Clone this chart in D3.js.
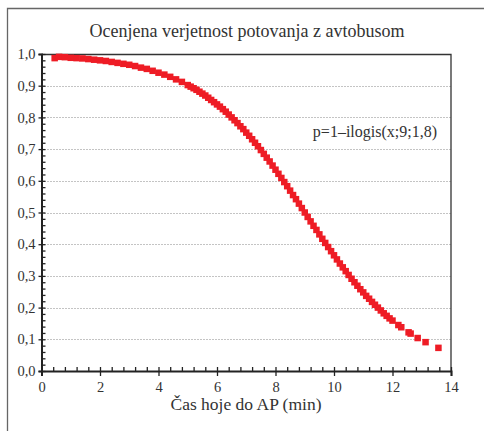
<!DOCTYPE html>
<html>
<head>
<meta charset="utf-8">
<script src="https://cdn.jsdelivr.net/npm/d3@7"></script>
<style>
  html, body { margin: 0; padding: 0; background: #fff; }
  svg { display: block; }
  text { font-family: "Liberation Serif", "DejaVu Serif", serif; fill: #333; }
</style>
</head>
<body>
<svg id="chart" width="486" height="431"></svg>
<script>
// ---- data ----
const title = "Ocenjena verjetnost potovanja z avtobusom";
const xAxisTitle = "Čas hoje do AP (min)";
const annotation = "p=1–ilogis(x;9;1,8)";

const xTicks = [0, 2, 4, 6, 8, 10, 12, 14];
const yTicks = [0, 0.1, 0.2, 0.3, 0.4, 0.5, 0.6, 0.7, 0.8, 0.9, 1.0];

const xValues = [
  0.45, 0.6, 0.8, 1.0, 1.2, 1.4, 1.6, 1.8, 2.0, 2.2, 2.4, 2.6, 2.8, 3.0, 3.2, 3.4, 3.6, 3.8,
  4.0, 4.2, 4.4, 4.6, 4.8, 5.0,
  5.1, 5.2, 5.3, 5.4, 5.5, 5.6, 5.7, 5.8, 5.9, 6.0,
  6.1, 6.2, 6.3, 6.4, 6.5, 6.6, 6.7, 6.8, 6.9, 7.0,
  7.1, 7.2, 7.3, 7.4, 7.5, 7.6, 7.7, 7.8, 7.9, 8.0,
  8.1, 8.2, 8.3, 8.4, 8.5, 8.6, 8.7, 8.8, 8.9, 9.0,
  9.1, 9.2, 9.3, 9.4, 9.5, 9.6, 9.7, 9.8, 9.9, 10.0,
  10.1, 10.2, 10.3, 10.4, 10.5, 10.6, 10.7, 10.8, 10.9, 11.0,
  11.1, 11.2, 11.3, 11.4, 11.5, 11.6, 11.7, 11.8, 11.9, 12.0,
  12.2, 12.3, 12.55, 12.62, 12.86, 13.13, 13.57
];
const pValues = [
  0.987, 0.991, 0.990, 0.988, 0.987, 0.986, 0.984, 0.982, 0.980, 0.978, 0.975, 0.972, 0.969, 0.966, 0.962, 0.957, 0.953, 0.947,
  0.941, 0.935, 0.928, 0.920, 0.912, 0.902,
  0.897, 0.892, 0.887, 0.881, 0.875, 0.869, 0.862, 0.855, 0.848, 0.841,
  0.834, 0.826, 0.818, 0.809, 0.800, 0.791, 0.782, 0.772, 0.763, 0.752,
  0.742, 0.731, 0.720, 0.709, 0.697, 0.685, 0.673, 0.661, 0.648, 0.635,
  0.622, 0.609, 0.596, 0.583, 0.569, 0.555, 0.542, 0.528, 0.514, 0.500,
  0.486, 0.472, 0.458, 0.445, 0.431, 0.417, 0.404, 0.391, 0.378, 0.365,
  0.352, 0.339, 0.327, 0.315, 0.303, 0.291, 0.280, 0.269, 0.258, 0.248,
  0.237, 0.228, 0.218, 0.209, 0.200, 0.191, 0.182, 0.174, 0.166, 0.159,
  0.145, 0.138, 0.122, 0.118, 0.104, 0.091, 0.073
];

// ---- layout ----
const svg = d3.select("#chart");
const plot = { left: 41.5, right: 451, top: 54, bottom: 371 };

const x = d3.scaleLinear().domain([0, 14]).range([plot.left, plot.right]);
const y = d3.scaleLinear().domain([0, 1]).range([plot.bottom, plot.top]);

// outer frame (top and left)
svg.append("path")
  .attr("d", "M7.5,431 L7.5,8.5 L484,8.5")
  .attr("fill", "none").attr("stroke", "#666").attr("stroke-width", 1.3);

// title
svg.append("text")
  .attr("x", 247).attr("y", 37)
  .attr("text-anchor", "middle")
  .attr("font-size", 18)
  .text(title);

// dotted gridlines
svg.append("g").selectAll("line")
  .data(yTicks.filter(d => d > 0 && d < 1))
  .join("line")
  .attr("x1", plot.left).attr("x2", plot.right)
  .attr("y1", d => Math.round(y(d)) + 0.5).attr("y2", d => Math.round(y(d)) + 0.5)
  .attr("stroke", "#888").attr("stroke-width", 1)
  .attr("stroke-dasharray", "1,2");

// plot frame top and right
svg.append("path")
  .attr("d", `M${plot.left},${plot.top + 0.5} L${plot.right},${plot.top + 0.5} L${plot.right},${plot.bottom}`)
  .attr("fill", "none").attr("stroke", "#333").attr("stroke-width", 1.3);

// minor ticks
const xMinor = d3.range(0, 14.0001, 0.4).filter(v => Math.abs(v / 2 - Math.round(v / 2)) > 1e-6);
const yMinor = d3.range(0, 1.0001, 0.02).filter(v => Math.abs(v * 10 - Math.round(v * 10)) > 1e-6);

const gxMinor = svg.append("g").attr("transform", `translate(0,${plot.bottom})`)
  .call(d3.axisBottom(x).tickValues(xMinor).tickSize(-4).tickFormat(""));
const gyMinor = svg.append("g").attr("transform", `translate(${plot.left},0)`)
  .call(d3.axisLeft(y).tickValues(yMinor).tickSize(-4).tickFormat(""));

// major axes
const gx = svg.append("g").attr("transform", `translate(0,${plot.bottom})`)
  .call(d3.axisBottom(x).tickValues(xTicks).tickSize(5).tickPadding(6).tickFormat(d3.format("d")));
const gy = svg.append("g").attr("transform", `translate(${plot.left},0)`)
  .call(d3.axisLeft(y).tickValues(yTicks).tickSize(3).tickPadding(3)
    .tickFormat(d => d3.format(".1f")(d).replace(".", ",")));

// inside part of major ticks
gx.selectAll(".tick").append("line").attr("y2", -4).attr("stroke", "#222");
gy.selectAll(".tick").append("line").attr("x2", 4).attr("stroke", "#222");

[gx, gy, gxMinor, gyMinor].forEach(g => {
  g.selectAll(".domain").attr("stroke", "#222").attr("stroke-width", 2);
  g.selectAll(".tick line").attr("stroke", "#222").attr("stroke-width", 1.3);
  g.selectAll("text")
    .attr("font-family", '"Liberation Serif", "DejaVu Serif", serif')
    .attr("font-size", 14.5).attr("fill", "#333");
});
gxMinor.select(".domain").remove();
gyMinor.select(".domain").remove();

// x-axis title
svg.append("text")
  .attr("x", 246).attr("y", 410)
  .attr("text-anchor", "middle")
  .attr("font-size", 17.5)
  .text(xAxisTitle);

// annotation
svg.append("text")
  .attr("x", 437).attr("y", 137)
  .attr("text-anchor", "end")
  .attr("font-size", 16)
  .text(annotation);

// points
const pts = xValues.map((v, i) => ({ x: v, p: pValues[i] }));
const s = 6.5;
svg.append("g").selectAll("rect")
  .data(pts)
  .join("rect")
  .attr("x", d => x(d.x) - s / 2)
  .attr("y", d => y(d.p) - s / 2)
  .attr("width", s).attr("height", s)
  .attr("fill", "#ee1c25");
</script>
</body>
</html>
